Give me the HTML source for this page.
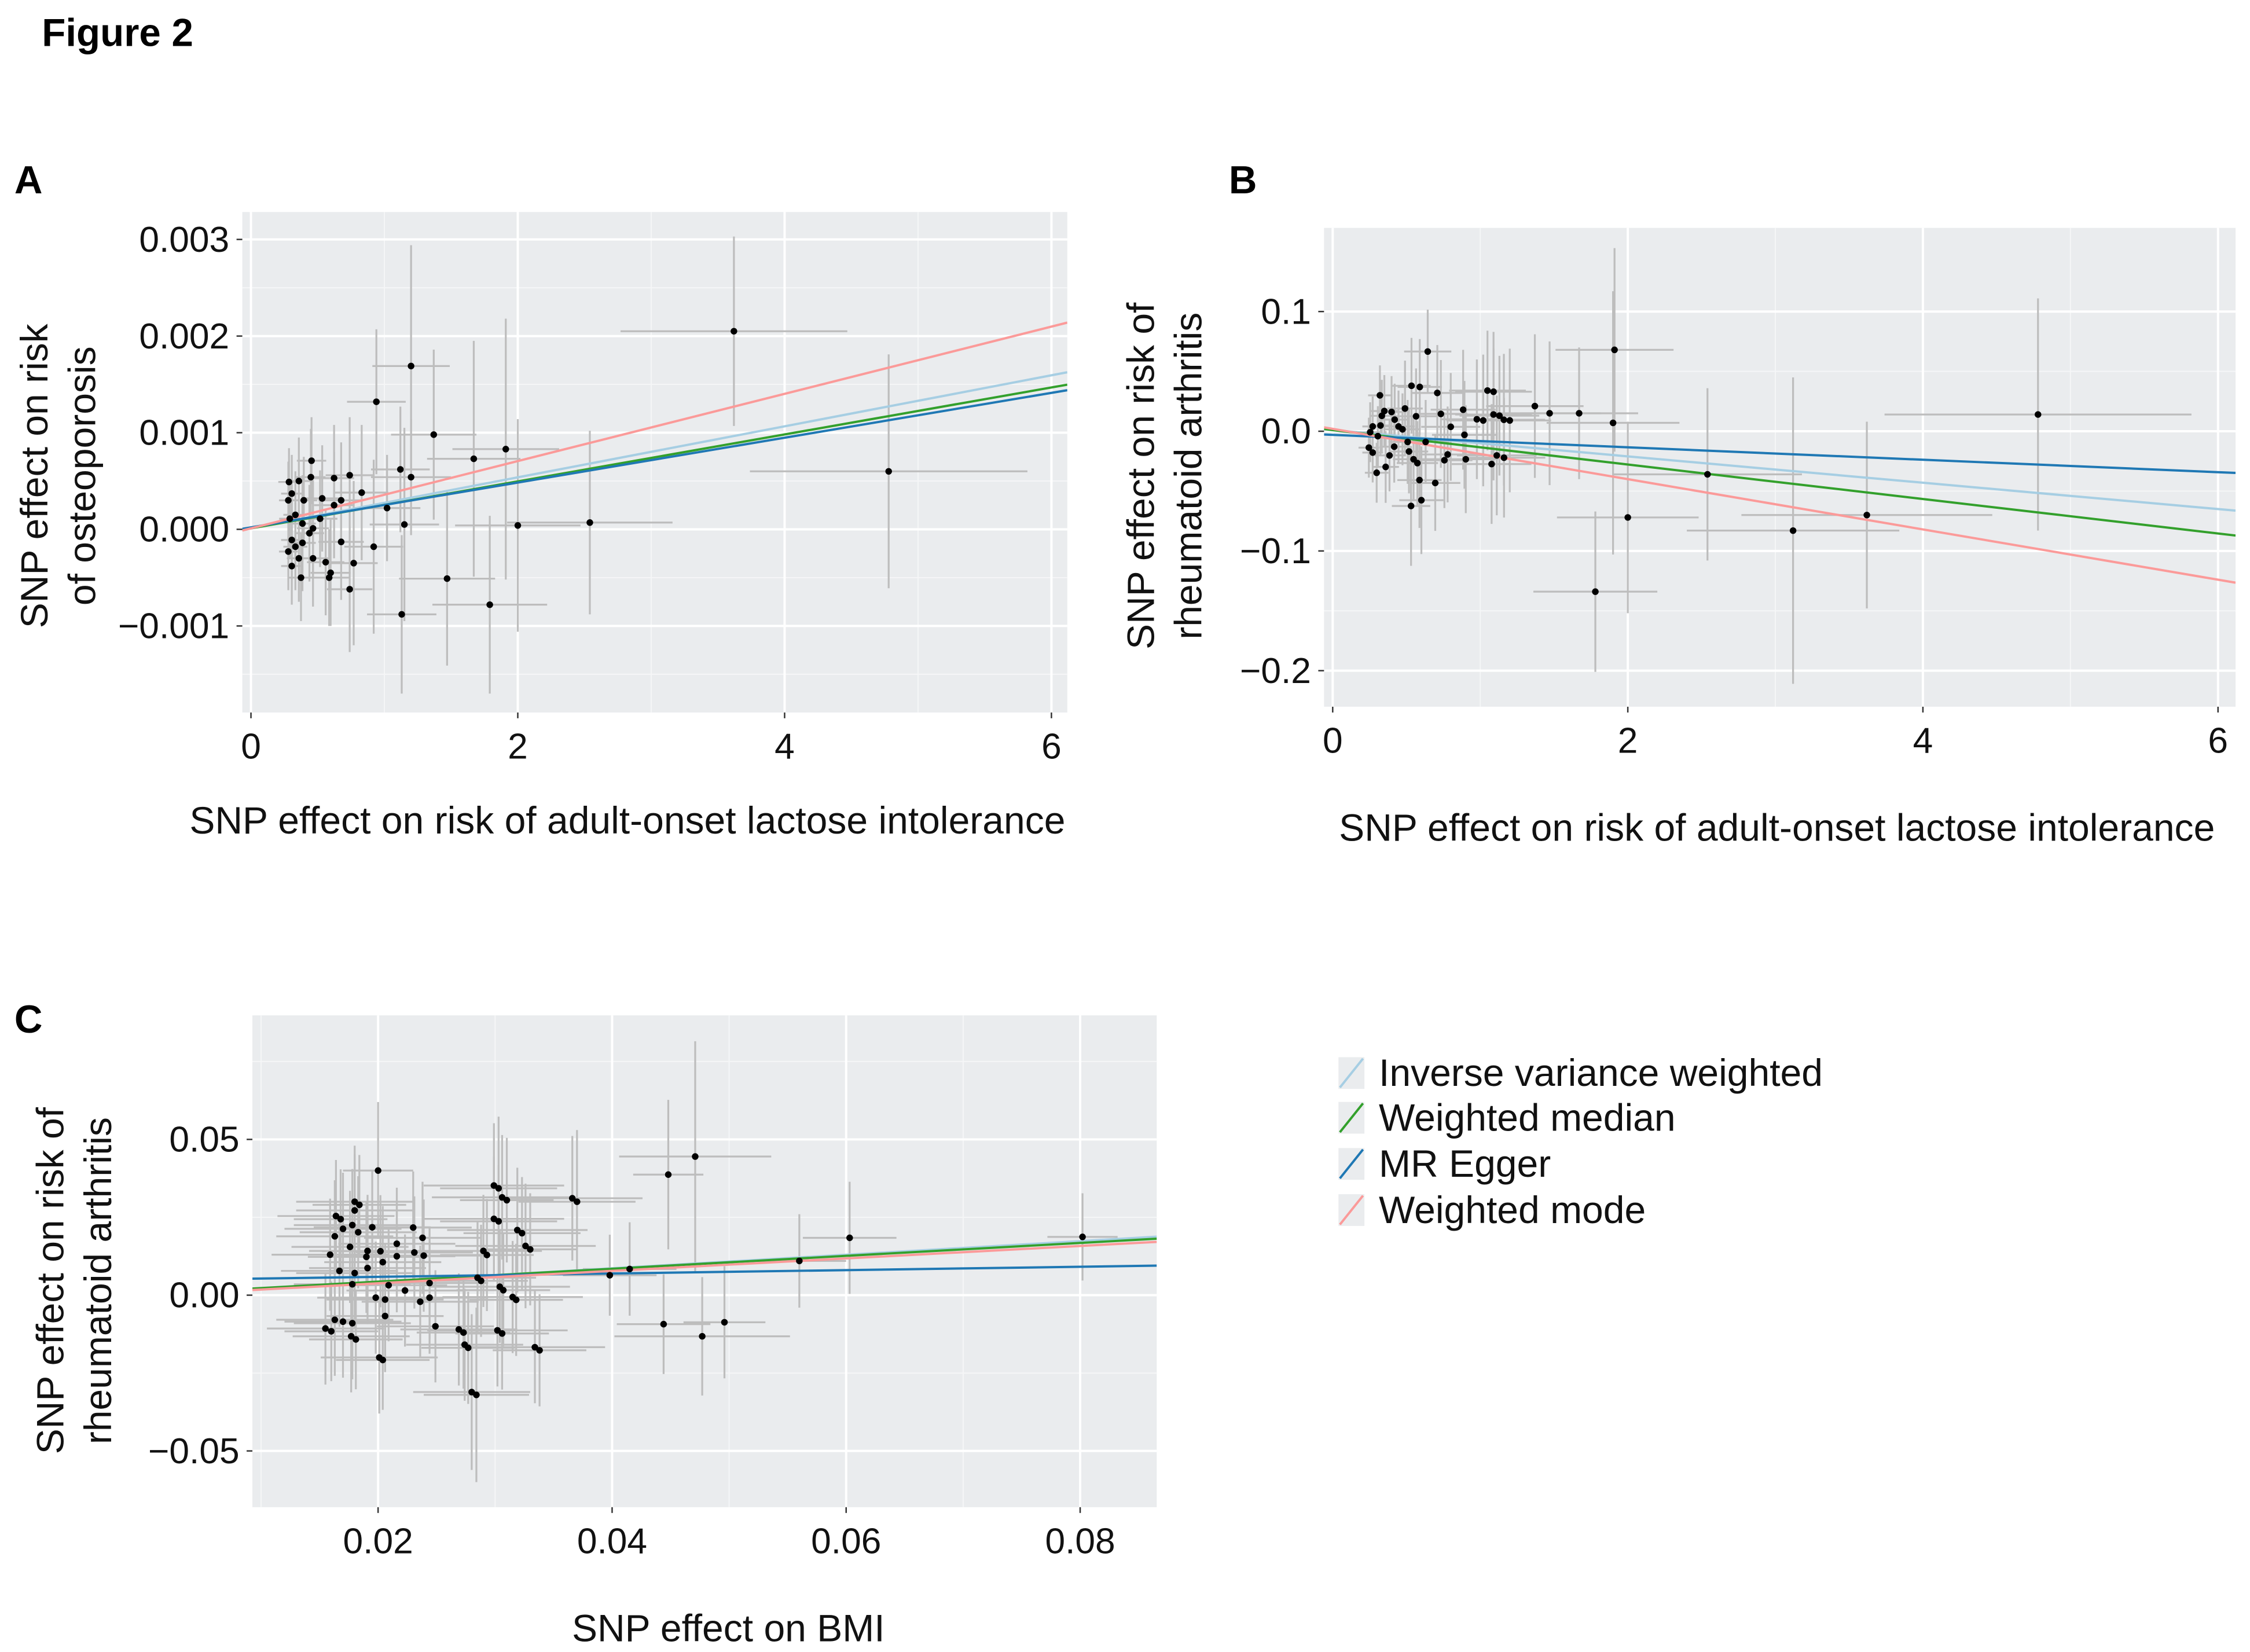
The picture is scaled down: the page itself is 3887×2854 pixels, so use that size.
<!DOCTYPE html>
<html><head><meta charset="utf-8"><style>
html,body{margin:0;padding:0;background:#fff;overflow:hidden;width:3887px;height:2854px;}
svg{display:block;font-family:"Liberation Sans",Arial,sans-serif;}
</style></head><body>
<svg id="fig" width="3887" height="2854" viewBox="0 0 1560 1145.4" xmlns="http://www.w3.org/2000/svg">
<text x="29" y="32" font-size="27" font-weight="bold">Figure 2</text>
<text x="10" y="134" font-size="27" font-weight="bold">A</text>
<text x="852" y="134" font-size="27" font-weight="bold">B</text>
<text x="10" y="716" font-size="27" font-weight="bold">C</text>
<g id="legend"></g>
</svg>
<script>
// ---- Method names and colours
const methods = ["Inverse variance weighted","Weighted median","MR Egger","Weighted mode"];
const methodColors = ["#A6CEE3","#33A02C","#1F78B4","#FB9A99"];

// ---- Panel A data
const aXTicks = [0,2,4,6];
const aYTicks = [0.003,0.002,0.001,0.000,-0.001];
const aYTickLabels = ["0.003","0.002","0.001","0.000","\u22120.001"];
const aIntercepts = [0.00001,0.00001,0.00002,0.00001];
const aSlopes = [0.000264,0.000243,0.000232,0.000348];
const aPoints = [
[3.62,0.00205,0.85,0.00098],[4.78,0.0006,1.04,0.00121],[1.20,0.00169,0.29,0.00125],
[0.94,0.00132,0.22,0.00075],[1.37,0.00098,0.32,0.00088],[1.91,0.00083,0.40,0.00135],
[1.67,0.00073,0.35,0.00122],[2.54,0.00007,0.62,0.00095],[2.00,0.00004,0.47,0.00110],
[1.15,0.00005,0.26,0.00100],[1.47,-0.00051,0.36,0.00090],[1.79,-0.00078,0.43,0.00092],
[1.13,-0.00088,0.26,0.00082],[1.12,0.00062,0.22,0.00065],[1.20,0.00054,0.30,0.00060],
[1.02,0.00022,0.25,0.00055],[0.92,-0.00018,0.22,0.00090],[0.83,0.00038,0.20,0.00070],
[0.77,-0.00035,0.18,0.00085],[0.74,-0.00062,0.17,0.00065],
[0.285,0.00049,0.08,0.00035],[0.306,0.00037,0.08,0.00040],[0.280,0.00030,0.07,0.00040],
[0.333,0.00015,0.09,0.00045],[0.291,0.00011,0.08,0.00040],[0.386,0.00006,0.10,0.00050],
[0.438,-0.00004,0.11,0.00050],[0.306,-0.00011,0.08,0.00040],[0.386,-0.00014,0.10,0.00050],
[0.280,-0.00023,0.07,0.00040],[0.333,-0.00018,0.09,0.00045],[0.359,-0.00030,0.09,0.00045],
[0.306,-0.00038,0.08,0.00040],[0.375,-0.00050,0.10,0.00045],[0.465,-0.00030,0.12,0.00050],
[0.560,-0.00034,0.14,0.00055],[0.597,-0.00045,0.15,0.00055],[0.586,-0.00050,0.15,0.00050],
[0.449,0.00054,0.11,0.00050],[0.454,0.00071,0.11,0.00045],[0.359,0.00050,0.09,0.00045],
[0.534,0.00032,0.13,0.00055],[0.623,0.00025,0.15,0.00055],[0.676,0.00030,0.17,0.00060],
[0.623,0.00053,0.15,0.00055],[0.740,0.00056,0.18,0.00060],[0.676,-0.00013,0.17,0.00060],
[0.518,0.00011,0.13,0.00050],[0.465,0.00001,0.12,0.00050],[0.396,0.00030,0.10,0.00045]
];

// ---- Panel B data
const bXTicks = [0,2,4,6];
const bYTicks = [0.1,0.0,-0.1,-0.2];
const bYTickLabels = ["0.1","0.0","\u22120.1","\u22120.2"];
const bIntercepts = [0.001,0.001,-0.003,0.002];
const bSlopes = [-0.0110,-0.0144,-0.0052,-0.0210];
const bPoints = [
[1.91,0.068,0.40,0.085],[4.78,0.014,1.04,0.097],[1.78,-0.134,0.42,0.067],
[2.00,-0.072,0.48,0.080],[2.54,-0.036,0.64,0.072],[3.12,-0.083,0.72,0.128],
[3.62,-0.070,0.85,0.078],[1.90,0.007,0.45,0.110],[1.67,0.015,0.40,0.055],
[1.47,0.015,0.35,0.060],[1.37,0.021,0.33,0.060],[1.20,0.009,0.28,0.060],
[1.13,0.013,0.27,0.050],[1.09,0.033,0.26,0.050],[1.02,0.009,0.25,0.055],
[0.644,0.0666,0.16,0.035],[0.32,0.030,0.08,0.025],[0.534,0.038,0.13,0.040],
[0.59,0.037,0.15,0.040],[0.709,0.032,0.17,0.040],[1.049,0.034,0.26,0.050],
[0.49,0.019,0.12,0.040],[0.565,0.0125,0.14,0.040],[0.733,0.0145,0.18,0.045],
[0.884,0.018,0.22,0.050],[0.977,0.010,0.24,0.050],[1.09,0.014,0.26,0.055],
[1.16,0.0096,0.28,0.055],[0.80,0.0037,0.20,0.045],[0.893,-0.003,0.22,0.045],
[0.350,0.0169,0.09,0.030],[0.399,0.0161,0.10,0.030],[0.333,0.0129,0.08,0.030],
[0.420,0.0097,0.10,0.030],[0.271,0.0040,0.07,0.025],[0.324,0.0048,0.08,0.025],
[0.446,0.0040,0.11,0.030],[0.473,0.0016,0.12,0.030],[0.254,-0.0008,0.07,0.025],
[0.306,-0.0041,0.08,0.025],[0.245,-0.0137,0.07,0.025],[0.271,-0.0178,0.07,0.025],
[0.417,-0.0129,0.10,0.030],[0.385,-0.0202,0.10,0.030],[0.359,-0.0298,0.09,0.030],
[0.298,-0.0347,0.08,0.025],[0.517,-0.0169,0.13,0.035],[0.548,-0.0234,0.14,0.035],
[0.574,-0.0266,0.14,0.035],[0.588,-0.0408,0.15,0.040],[0.695,-0.0432,0.17,0.040],
[0.601,-0.0576,0.15,0.045],[0.531,-0.0624,0.13,0.050],[0.757,-0.0242,0.19,0.040],
[0.779,-0.0194,0.19,0.040],[0.902,-0.0234,0.22,0.045],[1.077,-0.0274,0.27,0.050],
[1.112,-0.0202,0.27,0.050],[1.161,-0.0221,0.28,0.050],[0.508,-0.0089,0.13,0.035],
[0.630,-0.0089,0.16,0.035]
];

// ---- Panel C data
const cXTicks = [0.02,0.04,0.06,0.08];
const cXTickLabels = ["0.02","0.04","0.06","0.08"];
const cYTicks = [0.05,0.00,-0.05];
const cYTickLabels = ["0.05","0.00","\u22120.05"];
const cIntercepts = [-0.0001,0.0002,0.0048,-0.0002];
const cSlopes = [0.218,0.207,0.054,0.200];
const cPoints = [
[0.0802,0.0187,0.003,0.014],[0.0603,0.0184,0.004,0.018],[0.056,0.011,0.004,0.015],
[0.0471,0.0445,0.0065,0.037],[0.0448,0.0387,0.003,0.024],[0.0444,-0.0093,0.004,0.016],
[0.0477,-0.0132,0.0075,0.019],[0.0496,-0.0087,0.0035,0.018],[0.0398,0.0064,0.004,0.013],
[0.0415,0.0084,0.004,0.015],[0.037,0.030,0.005,0.023],[0.0303,0.0343,0.005,0.023],
[0.031,0.0305,0.004,0.020],[0.0303,0.0237,0.005,0.018],[0.0323,0.0199,0.005,0.018],
[0.033,0.0147,0.004,0.018],[0.0293,0.0129,0.004,0.018],[0.0288,0.0046,0.004,0.018],
[0.0307,0.0016,0.004,0.018],[0.0318,-0.0015,0.004,0.018],[0.0306,-0.0123,0.004,0.018],
[0.0338,-0.0177,0.004,0.018],[0.0284,-0.032,0.0045,0.028],[0.0277,-0.0169,0.004,0.018],
[0.0273,-0.012,0.004,0.018],[0.020,0.040,0.003,0.022],[0.0204,-0.0208,0.004,0.016],
[0.0181,-0.0142,0.004,0.016],[0.016,-0.0116,0.004,0.016],[0.0184,0.029,0.004,0.016],
[0.0168,0.0244,0.004,0.016],
[0.0180,0.0300,0.005,0.018],[0.0180,0.0272,0.005,0.018],[0.0164,0.0254,0.005,0.018],
[0.0163,0.0189,0.005,0.018],[0.0170,0.0213,0.005,0.018],[0.0178,0.0225,0.005,0.018],
[0.0183,0.0202,0.005,0.018],[0.0195,0.0218,0.005,0.018],[0.0176,0.0155,0.005,0.018],
[0.0159,0.0130,0.005,0.018],[0.0191,0.0142,0.005,0.018],[0.0190,0.0123,0.005,0.018],
[0.0202,0.0141,0.005,0.018],[0.0204,0.0106,0.005,0.018],[0.0216,0.0165,0.005,0.018],
[0.0216,0.0125,0.005,0.018],[0.0230,0.0217,0.005,0.018],[0.0238,0.0184,0.005,0.018],
[0.0231,0.0137,0.005,0.018],[0.0239,0.0127,0.005,0.018],[0.0191,0.0087,0.005,0.018],
[0.0167,0.0078,0.005,0.018],[0.0180,0.0071,0.005,0.018],[0.0178,0.0035,0.005,0.018],
[0.0209,0.0032,0.005,0.018],[0.0223,0.0015,0.005,0.018],[0.0244,0.0039,0.005,0.018],
[0.0198,-0.0008,0.005,0.018],[0.0206,-0.0014,0.005,0.018],[0.0236,-0.0021,0.005,0.018],
[0.0244,-0.0008,0.005,0.018],[0.0206,-0.0067,0.005,0.018],[0.0163,-0.0079,0.005,0.018],
[0.0170,-0.0085,0.005,0.018],[0.0178,-0.0090,0.005,0.018],[0.0155,-0.0107,0.005,0.018],
[0.0177,-0.0132,0.005,0.018],[0.0201,-0.0200,0.005,0.018],[0.0249,-0.0100,0.005,0.018],
[0.0269,-0.0110,0.005,0.018],[0.0274,-0.0159,0.005,0.018],[0.0280,-0.0311,0.005,0.025],
[0.0285,0.0056,0.005,0.018],[0.0290,0.0142,0.005,0.018],[0.0299,0.0352,0.006,0.020],
[0.0306,0.0314,0.006,0.020],[0.0299,0.0245,0.006,0.020],[0.0319,0.0209,0.006,0.020],
[0.0326,0.0158,0.006,0.020],[0.0304,0.0027,0.006,0.018],[0.0315,-0.0006,0.006,0.018],
[0.0302,-0.0113,0.006,0.018],[0.0334,-0.0167,0.006,0.018],[0.0366,0.0311,0.006,0.020]
];

const NS = "http://www.w3.org/2000/svg";
const svg = document.getElementById("fig");
function mk(tag, attrs, parent){
  const e = document.createElementNS(NS, tag);
  for (const k in attrs) e.setAttribute(k, attrs[k]);
  (parent||svg).appendChild(e);
  return e;
}
function linScale(d0,d1,r0,r1){ return v => r0 + (v-d0)*(r1-r0)/(d1-d0); }

function panel(cfg){
  const g = mk("g", {});
  
  
  const {L,T,R,B} = cfg.box;
  const sx = linScale(cfg.xd[0],cfg.xd[1],L,R);
  const sy = linScale(cfg.yd[0],cfg.yd[1],B,T);
  const bg = mk("rect",{x:L,y:T,width:R-L,height:B-T,fill:"#EAECEE"},g);
  
  
  const cid = cfg.name+"-clip";
  const cp = mk("clipPath",{id:cid},g);
  mk("rect",{x:L,y:T,width:R-L,height:B-T},cp);
  cfg.xMinor.forEach(v=>{ const l=mk("line",{x1:sx(v),x2:sx(v),y1:T,y2:B,stroke:"#F5F6F7","stroke-width":0.8},g);
      });
  cfg.yMinor.forEach(v=>{ const l=mk("line",{x1:L,x2:R,y1:sy(v),y2:sy(v),stroke:"#F5F6F7","stroke-width":0.8},g);
      });
  cfg.xTicks.forEach((v,i)=>{
    const l=mk("line",{x1:sx(v),x2:sx(v),y1:T,y2:B,stroke:"#FFFFFF","stroke-width":1.6},g);
     
    const tk=mk("line",{x1:sx(v),x2:sx(v),y1:B,y2:B+4,stroke:"#333","stroke-width":1},g);
     
    const t=mk("text",{x:sx(v),y:B+32,"font-size":25,"text-anchor":"middle",fill:"#111"},g);
    t.textContent = cfg.xLabels[i];
     
  });
  cfg.yTicks.forEach((v,i)=>{
    const l=mk("line",{x1:L,x2:R,y1:sy(v),y2:sy(v),stroke:"#FFFFFF","stroke-width":1.6},g);
     
    const tk=mk("line",{x1:L-4,x2:L,y1:sy(v),y2:sy(v),stroke:"#333","stroke-width":1},g);
     
    const t=mk("text",{x:L-9,y:sy(v)+8.5,"font-size":25,"text-anchor":"end",fill:"#111"},g);
    t.textContent = cfg.yLabels[i];
     
  });
  const data = mk("g",{"clip-path":"url(#"+cid+")"},g);
  cfg.points.forEach(p=>{
    const h=mk("line",{x1:sx(p[0]-p[2]),x2:sx(p[0]+p[2]),y1:sy(p[1]),y2:sy(p[1]),stroke:"#BDBDBD","stroke-width":1.3},data);
     
    const v=mk("line",{x1:sx(p[0]),x2:sx(p[0]),y1:sy(p[1]-p[3]),y2:sy(p[1]+p[3]),stroke:"#BDBDBD","stroke-width":1.3},data);
     
  });
  cfg.intercepts.forEach((b,i)=>{
    const x0=cfg.xd[0], x1=cfg.xd[1];
    const l=mk("line",{x1:sx(x0),y1:sy(b+cfg.slopes[i]*x0),x2:sx(x1),y2:sy(b+cfg.slopes[i]*x1),stroke:methodColors[i],"stroke-width":1.6},data);
    
    
  });
  cfg.points.forEach(p=>{
    const c=mk("circle",{cx:sx(p[0]),cy:sy(p[1]),r:2.3,fill:"#000"},data);
     
  });
  const xt=mk("text",{x:cfg.xTitle[1],y:cfg.xTitle[2],"font-size":26.5,"text-anchor":"middle",fill:"#111"},g);
  xt.textContent=cfg.xTitle[0];
   
  const yt=mk("text",{transform:"translate("+cfg.yTitlePos[0]+","+cfg.yTitlePos[1]+") rotate(-90)","font-size":26.5,"text-anchor":"middle",fill:"#111"},g);
   
  cfg.yTitle.forEach((s,i)=>{ const ts=mk("tspan",{x:0,dy:i?33:0},yt); ts.textContent=s; });
}

panel({name:"panel-a",box:{L:168,T:147,R:740,B:494},
  xd:[-0.0649,6.119],yd:[-(494-367)/67000,(367-147)/67000],
  xTicks:aXTicks,xLabels:aXTicks.map(String),yTicks:aYTicks,yLabels:aYTickLabels,
  xMinor:[1,3,5],yMinor:[0.0025,0.0015,0.0005,-0.0005,-0.0015],
  points:aPoints,intercepts:aIntercepts,slopes:aSlopes,
  xTitle:["SNP effect on risk of adult-onset lactose intolerance",435,578],
  yTitle:["SNP effect on risk","of osteoporosis"],yTitlePos:[33,330]});

panel({name:"panel-b",box:{L:918,T:158,R:1550,B:490},
  xd:[-0.0587,6.119],yd:[(299-490)/830,(299-158)/830],
  xTicks:bXTicks,xLabels:bXTicks.map(String),yTicks:bYTicks,yLabels:bYTickLabels,
  xMinor:[1,3,5],yMinor:[0.05,-0.05,-0.15],
  points:bPoints,intercepts:bIntercepts,slopes:bSlopes,
  xTitle:["SNP effect on risk of adult-onset lactose intolerance",1232,583],
  yTitle:["SNP effect on risk of","rheumatoid arthritis"],yTitlePos:[800,330]});

panel({name:"panel-c",box:{L:175,T:704,R:802,B:1045},
  xd:[0.02-87/8100,0.08+53/8100],yd:[(898-1045)/2160,(898-704)/2160],
  xTicks:cXTicks,xLabels:cXTickLabels,yTicks:cYTicks,yLabels:cYTickLabels,
  xMinor:[0.01,0.03,0.05,0.07],yMinor:[0.075,0.025,-0.025],
  points:cPoints,intercepts:cIntercepts,slopes:cSlopes,
  xTitle:["SNP effect on BMI",505,1138],
  yTitle:["SNP effect on risk of","rheumatoid arthritis"],yTitlePos:[44,888]});

const lg = document.getElementById("legend");
const legendRows = [744,775,807,839];
methods.forEach((m,i)=>{
  const y=legendRows[i];
  const e=mk("g",{},lg);
  
  
  mk("rect",{x:928,y:y-11,width:18,height:22,fill:"#EAECEE"},e);
  mk("line",{x1:929,y1:y+10,x2:945,y2:y-10,stroke:methodColors[i],"stroke-width":1.6},e);
  const t=mk("text",{x:956,y:y+9,"font-size":26.5,fill:"#111"},e);
  t.textContent=m;
});
</script>
</body></html>
